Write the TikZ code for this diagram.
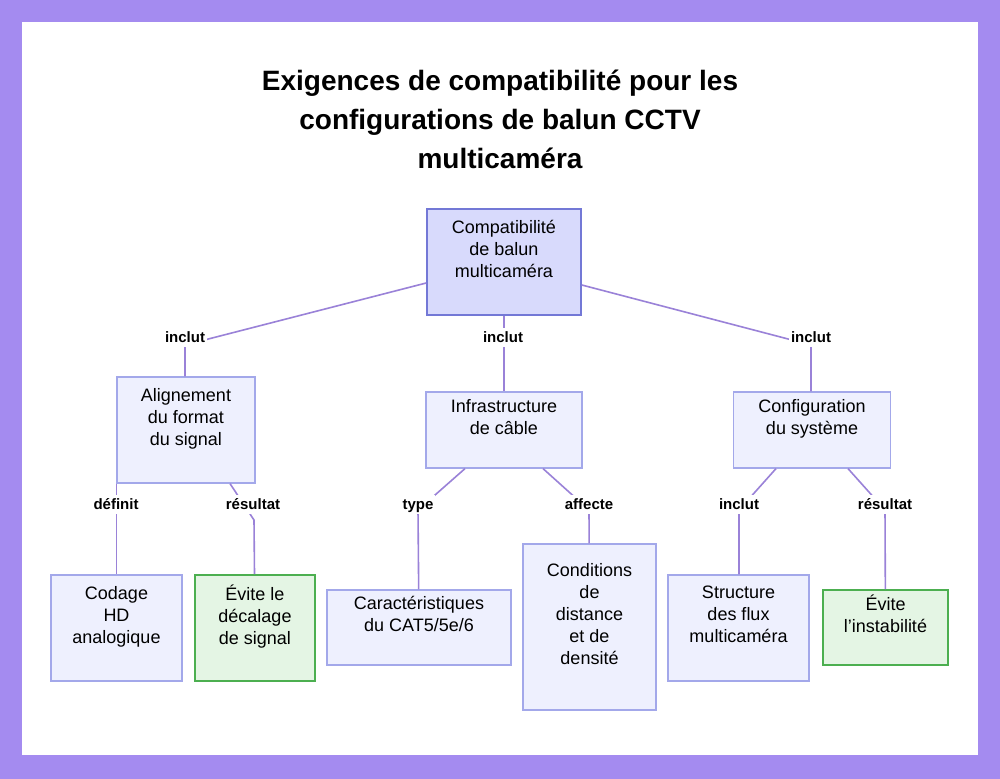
\documentclass[tikz,border=0pt]{standalone}
\usepackage{fontspec}
\setmainfont{Liberation Sans}
\usetikzlibrary{positioning}
\definecolor{frame}{HTML}{A48BF0}
\definecolor{edge}{HTML}{9A82D8}
\definecolor{rootfill}{HTML}{D8DAFC}
\definecolor{rootline}{HTML}{7378D6}
\definecolor{boxfill}{HTML}{EEF0FE}
\definecolor{boxline}{HTML}{A3A8EA}
\definecolor{goodfill}{HTML}{E4F5E4}
\definecolor{goodline}{HTML}{4CAF50}
\tikzset{
  box/.style={draw=boxline,fill=boxfill,line width=0.6pt,align=center,
    font=\fontsize{9}{11}\selectfont,inner sep=0pt,text depth=13.5pt},
  root/.style={box,draw=rootline,fill=rootfill,line width=0.8pt},
  good/.style={box,draw=goodline,fill=goodfill,line width=0.8pt},
  link/.style={draw=edge,line width=0.8pt},
  tag/.style={fill=white,inner sep=1pt,text height=6pt,text depth=1.5pt,
    font=\bfseries\fontsize{7.5}{9}\selectfont}
}
\begin{document}
\begin{tikzpicture}[x=0.5pt,y=-0.5pt]
  % background and frame
  \fill[frame] (0,0) rectangle (1000,779);
  \fill[white] (22,22) rectangle (978,755);
  \useasboundingbox (0,0) rectangle (1000,779);

  % title
  \node[align=center,font=\bfseries\fontsize{14}{19.5}\selectfont] (title) at (500,119)
    {Exigences de compatibilité pour les\\configurations de balun CCTV\\multicaméra};

  % top level
  \node[root,minimum width=77pt,minimum height=53pt] (compat) at (504,262)
    {Compatibilité\\de balun\\multicaméra};

  % middle level
  \node[box,minimum width=69pt,minimum height=53pt] (format) at (186,430)
    {Alignement\\du format\\du signal};
  \node[box,minimum width=78pt,minimum height=38pt] (cable) at (504,430)
    {Infrastructure\\de câble};
  \node[box,minimum width=78.5pt,minimum height=38pt] (config) at (812,430)
    {Configuration\\du système};

  % bottom level
  \node[box,minimum width=65.5pt,minimum height=53pt] (codage) at (116.5,628)
    {Codage\\HD\\analogique};
  \node[good,minimum width=60pt,minimum height=53pt] (decal) at (255,628)
    {Évite le\\décalage\\de signal};
  \node[box,minimum width=92pt,minimum height=37.5pt] (cat) at (419,627.5)
    {Caractéristiques\\du CAT5/5e/6};
  \node[box,minimum width=66.5pt,minimum height=83pt] (dist) at (589.5,627)
    {Conditions\\de\\distance\\et de\\densité};
  \node[box,minimum width=70.5pt,minimum height=53pt] (flux) at (738.5,628)
    {Structure\\des flux\\multicaméra};
  \node[good,minimum width=62.5pt,minimum height=37.5pt] (instab) at (885.5,627.5)
    {Évite\\l'instabilité};

  % bend points
  \coordinate (b1) at (185,345);
  \coordinate (b3) at (811,345);
  \coordinate (c2) at (254,520);
  \coordinate (c3) at (418,510);
  \coordinate (c4) at (589,510);
  \coordinate (c5) at (739,510);
  \coordinate (c6) at (885,510);

  % connectors
  \draw[link] (compat.west|-0,283) -- (b1) -- (format.north-|b1);
  \draw[link] (compat) -- (cable);
  \draw[link] (compat.east|-0,285) -- (b3) -- (config.north-|b3);
  \draw[link] (format.south-|codage) -- (codage);
  \draw[link] (format.south-|230,0) -- (c2) -- (decal);
  \draw[link] (cable.south-|465,0) -- (c3) -- (cat);
  \draw[link] (cable.south-|543,0) -- (c4) -- (dist);
  \draw[link] (config.south-|776,0) -- (c5) -- (flux.north-|c5);
  \draw[link] (config.south-|848,0) -- (c6) -- (instab);

  % connector labels
  \node[tag] at (185,338) {inclut};
  \node[tag] at (503,338) {inclut};
  \node[tag] at (811,338) {inclut};
  \node[tag] at (116,505) {définit};
  \node[tag] at (253,505) {résultat};
  \node[tag] at (418,505) {type};
  \node[tag] at (589,505) {affecte};
  \node[tag] at (739,505) {inclut};
  \node[tag] at (885,505) {résultat};
\end{tikzpicture}
\end{document}
